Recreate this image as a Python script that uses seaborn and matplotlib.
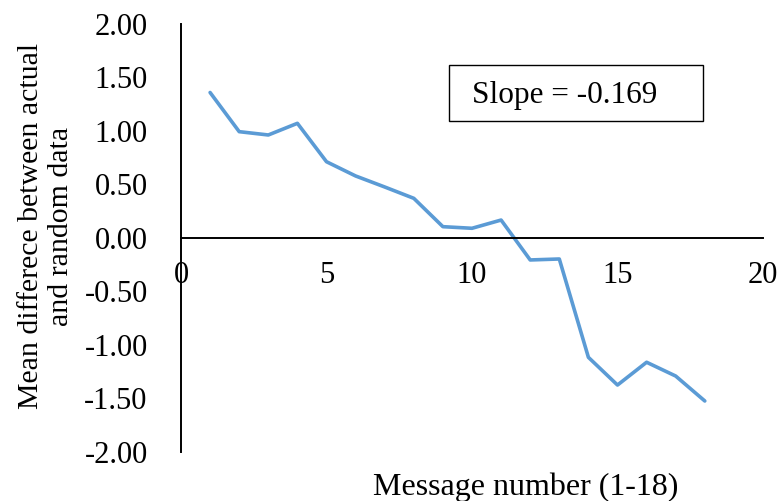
import pandas as pd
import seaborn as sns
import matplotlib.pyplot as plt
from matplotlib.patches import Rectangle

# datos
message = list(range(1, 19))
mean_diff = [1.357, 0.991, 0.960, 1.069, 0.710, 0.577, 0.474, 0.368, 0.103,
             0.088, 0.165, -0.208, -0.199, -1.118, -1.377, -1.164, -1.293, -1.526]
y_ticks = [2.0, 1.5, 1.0, 0.5, 0.0, -0.5, -1.0, -1.5, -2.0]
x_ticks = [0, 5, 10, 15, 20]
slope_text = "Slope = -0.169"

df = pd.DataFrame({"message": message, "diff": mean_diff})

sns.set_style("white")
plt.rcParams["font.family"] = ["Liberation Serif", "DejaVu Serif"]

fig = plt.figure(figsize=(7.81, 5.01), dpi=100)
ax = fig.add_axes([181 / 781, 1 - 451.7 / 501, 582 / 781, 428 / 501])

sns.lineplot(data=df, x="message", y="diff", color="#5B9BD5", linewidth=2.6, ax=ax)

ax.set_xlim(0, 20)
ax.set_ylim(-2, 2)
ax.set_xticks(x_ticks)
ax.set_yticks(y_ticks)
ax.set_yticklabels([f"{v:.2f}" for v in y_ticks])
ax.set_xlabel("")
ax.set_ylabel("")

for s in ["top", "right"]:
    ax.spines[s].set_visible(False)
ax.spines["bottom"].set_position(("data", 0))
ax.spines["bottom"].set_color("black")
ax.spines["left"].set_color("black")
ax.spines["bottom"].set_linewidth(1.4)
ax.spines["left"].set_linewidth(1.4)
ax.tick_params(axis="both", length=0, labelsize=22, colors="black")
ax.tick_params(axis="y", pad=24)
ax.tick_params(axis="x", pad=17)

fig.text(526 / 781, 1 - 487 / 501, "Message number (1-18)", ha="center", va="center",
         fontsize=23, color="black")
fig.text(46 / 781, 1 - 226 / 501, "Mean differece between actual\nand random data",
         ha="center", va="center", rotation=90, fontsize=21.5, linespacing=1.2, color="black")

# caja con la pendiente
fig.add_artist(Rectangle((449 / 781, 1 - 121 / 501), 254 / 781, 56 / 501,
                         transform=fig.transFigure, fill=False, edgecolor="black", linewidth=1.0))
fig.text(472 / 781, 1 - 95 / 501, slope_text, ha="left", va="center", fontsize=22.5, color="black")

fig.savefig("out.png", dpi=100)
plt.close()
